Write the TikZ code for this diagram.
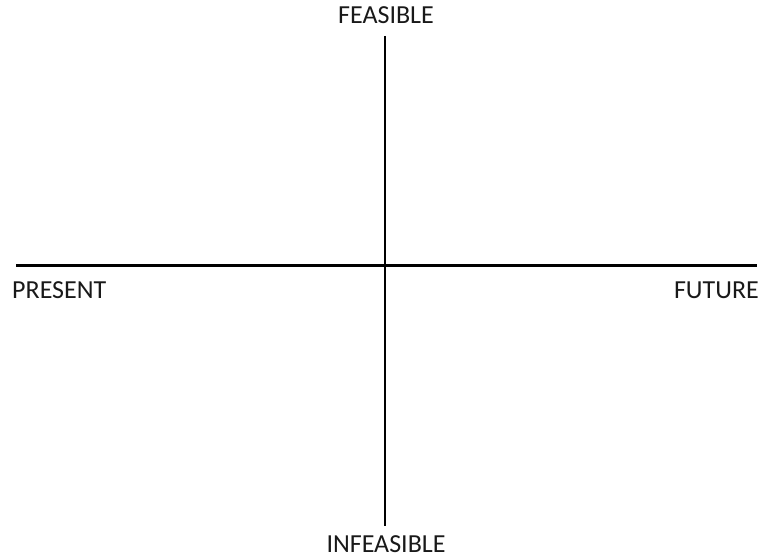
\documentclass[tikz,border=0pt]{standalone}
\usepackage{fontspec}
\setmainfont{Carlito}
\begin{document}
\begin{tikzpicture}[x=1pt,y=1pt,
  axis/.style={line width=2.2pt,black},
  lbl/.style={inner sep=0pt,font=\fontsize{26}{30}\selectfont,text=black!90}]
\useasboundingbox (0,0) rectangle (762,558);
\coordinate (L) at (16,292.5);
\coordinate (R) at (757,292.5);
\coordinate (T) at (385,522);
\coordinate (B) at (385,32);
\draw[axis] (L) -- (R);
\draw[axis] (T) -- (B);
\node[lbl,anchor=base] (feas) at (386,534.5) {FEASIBLE};
\node[lbl,anchor=base] (infeas) at (386,6) {INFEASIBLE};
\node[lbl,anchor=base west] (present) at (12,260) {PRESENT};
\node[lbl,anchor=base east] (future) at (759,260) {FUTURE};
\end{tikzpicture}
\end{document}
